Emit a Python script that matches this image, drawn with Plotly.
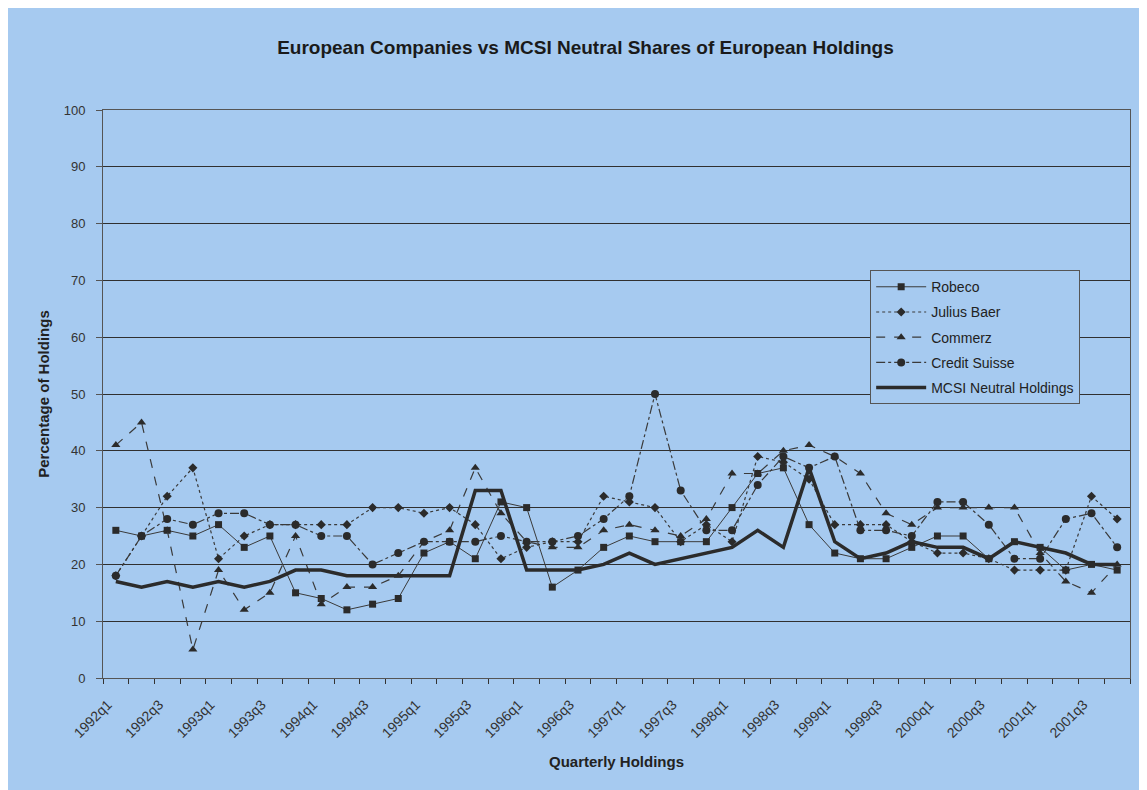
import plotly.graph_objects as go

categories = [f"{y}q{q}" for y in range(1992, 2002) for q in range(1, 5)]

robeco = [26, 25, 26, 25, 27, 23, 25, 15, 14, 12, 13, 14, 22, 24, 21, 31, 30, 16, 19, 23,
          25, 24, 24, 24, 30, 36, 37, 27, 22, 21, 21, 23, 25, 25, 21, 24, 23, 19, 20, 19]
julius_baer = [18, 25, 32, 37, 21, 25, 27, 27, 27, 27, 30, 30, 29, 30, 27, 21, 23, 24, 24, 32,
               31, 30, 24, 27, 24, 39, 38, 35, 27, 27, 27, 24, 22, 22, 21, 19, 19, 19, 32, 28]
commerz = [41, 45, 26, 5, 19, 12, 15, 25, 13, 16, 16, 18, 24, 26, 37, 29, 24, 23, 23, 26,
           27, 26, 25, 28, 36, 36, 40, 41, 39, 36, 29, 27, 30, 30, 30, 30, 22, 17, 15, 20]
credit_suisse = [18, 25, 28, 27, 29, 29, 27, 27, 25, 25, 20, 22, 24, 24, 24, 25, 24, 24, 25, 28,
                 32, 50, 33, 26, 26, 34, 39, 37, 39, 26, 26, 25, 31, 31, 27, 21, 21, 28, 29, 23]
mcsi = [17, 16, 17, 16, 17, 16, 17, 19, 19, 18, 18, 18, 18, 18, 33, 33, 19, 19, 19, 20,
        22, 20, 21, 22, 23, 26, 23, 37, 24, 21, 22, 24, 23, 23, 21, 24, 23, 22, 20, 20]

series_names = ["Robeco", "Julius Baer", "Commerz", "Credit Suisse", "MCSI Neutral Holdings"]

idx = list(range(len(categories)))
BLUE = "#A6CAF0"
INK = "#2b2b2b"
FONT = "Liberation Sans, Arial, sans-serif"

fig = go.Figure()

styles = [
    (robeco, dict(color="#3a3a3a", width=1, dash="solid"), dict(symbol="square", size=7)),
    (julius_baer, dict(color="#3a3a3a", width=1.2, dash="dot"), dict(symbol="diamond", size=7)),
    (commerz, dict(color="#3a3a3a", width=1.2, dash="dash"), dict(symbol="triangle-up", size=8)),
    (credit_suisse, dict(color="#3a3a3a", width=1.2, dash="dashdot"), dict(symbol="circle", size=8)),
]
for name, (vals, line, marker) in zip(series_names[:4], styles):
    marker = dict(marker, color=INK)
    fig.add_trace(go.Scatter(x=idx, y=vals, name=name, mode="lines+markers",
                             line=line, marker=marker, legendgroup=name))

fig.add_trace(go.Scatter(x=idx, y=mcsi, name=series_names[4], mode="lines",
                         line=dict(color=INK, width=3.5), legendgroup=series_names[4]))

W, H = 1139, 782
fig.update_layout(
    width=W, height=H,
    paper_bgcolor=BLUE,
    plot_bgcolor=BLUE,
    margin=dict(l=95, r=17, t=102, b=112),
    font=dict(family=FONT, color=INK, size=12),
    title=dict(text="<b>European Companies vs MCSI Neutral Shares of European Holdings</b>",
               x=0.507, xanchor="center", y=1 - 39 / H, yanchor="middle", yref="container",
               font=dict(family=FONT, size=19, color="#1a1a1a")),
    legend=dict(x=0.747, y=0.718, xanchor="left", yanchor="top", bgcolor=BLUE,
                bordercolor="#555", borderwidth=1, font=dict(family=FONT, size=14, color="#222"),
                itemwidth=50, tracegroupgap=4),
    xaxis=dict(range=[-0.5, 39.5], tickmode="array", tickvals=idx[::2], ticktext=categories[::2],
               tickangle=-45, ticks="", showgrid=False, zeroline=False,
               showline=True, linecolor="#555", linewidth=1, mirror=True,
               tickfont=dict(family=FONT, size=14, color="#333"),
               ticklabelshift=-8, ticklabelstandoff=12,
               minor=dict(ticks="outside", tickmode="linear", tick0=-0.5, dtick=1,
                          ticklen=5, tickcolor="#333", showgrid=False),
               title=dict(text="<b>Quarterly Holdings</b>", font=dict(family=FONT, size=15, color="#222"),
                          standoff=16)),
    yaxis=dict(range=[0, 100], dtick=10, tick0=0, ticks="outside", ticklen=6, tickcolor="#555",
               showgrid=True, gridcolor="#303030", gridwidth=1.3, zeroline=False,
               showline=True, linecolor="#555", linewidth=1, mirror=True,
               tickfont=dict(family=FONT, size=13, color="#333"), ticklabelstandoff=8,
               title=dict(text="<b>Percentage of Holdings</b>", font=dict(family=FONT, size=15, color="#222"),
                          standoff=10)),
)

fig.write_html("out.html")
